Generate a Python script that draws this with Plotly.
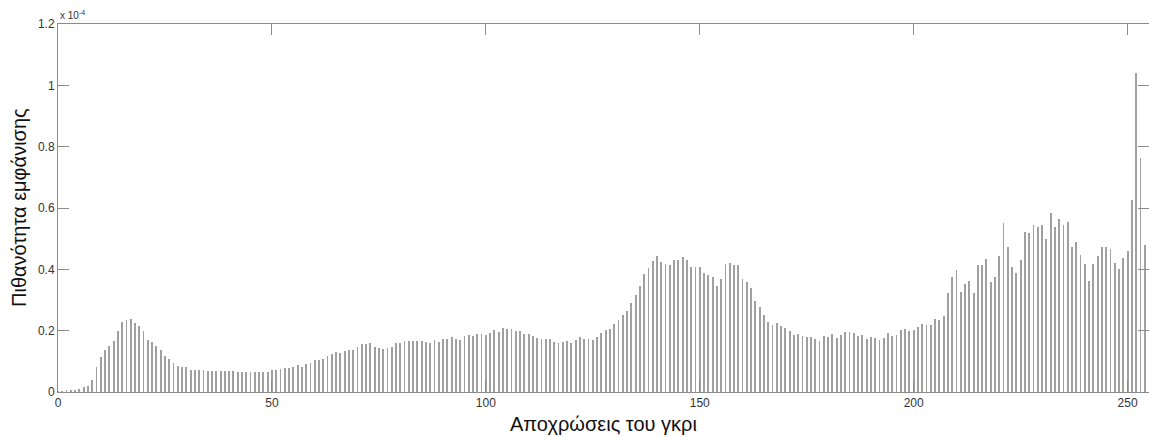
import plotly.graph_objects as go

# Gray levels 0..254 and probabilities (in units of 1e-4)
gray_levels = list(range(255))
probability = [
    0.002, 0.003, 0.004, 0.005, 0.008, 0.010, 0.015, 0.018, 0.038, 0.080,
    0.113, 0.136, 0.149, 0.167, 0.198, 0.227, 0.236, 0.238, 0.225, 0.214,
    0.200, 0.171, 0.162, 0.149, 0.138, 0.118, 0.108, 0.095, 0.086, 0.080,
    0.080, 0.073, 0.072, 0.072, 0.072, 0.070, 0.070, 0.070, 0.068, 0.068,
    0.068, 0.068, 0.066, 0.065, 0.065, 0.066, 0.064, 0.064, 0.066, 0.066,
    0.071, 0.071, 0.075, 0.079, 0.079, 0.082, 0.087, 0.083, 0.090, 0.096,
    0.103, 0.104, 0.109, 0.116, 0.123, 0.132, 0.126, 0.135, 0.138, 0.138,
    0.147, 0.157, 0.157, 0.159, 0.148, 0.142, 0.140, 0.143, 0.148, 0.159,
    0.159, 0.165, 0.167, 0.166, 0.167, 0.167, 0.163, 0.160, 0.168, 0.162,
    0.174, 0.172, 0.178, 0.174, 0.171, 0.183, 0.185, 0.183, 0.190, 0.188,
    0.186, 0.191, 0.203, 0.197, 0.208, 0.205, 0.204, 0.198, 0.198, 0.189,
    0.190, 0.183, 0.176, 0.173, 0.173, 0.173, 0.162, 0.159, 0.162, 0.166,
    0.159, 0.170, 0.178, 0.174, 0.174, 0.170, 0.178, 0.191, 0.202, 0.206,
    0.221, 0.236, 0.252, 0.264, 0.289, 0.317, 0.345, 0.386, 0.404, 0.426,
    0.443, 0.424, 0.416, 0.414, 0.430, 0.429, 0.440, 0.430, 0.406, 0.409,
    0.409, 0.388, 0.382, 0.375, 0.346, 0.367, 0.417, 0.420, 0.414, 0.413,
    0.370, 0.359, 0.339, 0.298, 0.277, 0.251, 0.227, 0.218, 0.224, 0.216,
    0.208, 0.199, 0.187, 0.188, 0.183, 0.178, 0.178, 0.173, 0.166, 0.182,
    0.179, 0.189, 0.177, 0.185, 0.197, 0.197, 0.193, 0.184, 0.186, 0.174,
    0.178, 0.177, 0.168, 0.176, 0.192, 0.183, 0.187, 0.203, 0.205, 0.198,
    0.203, 0.213, 0.222, 0.218, 0.217, 0.237, 0.236, 0.249, 0.322, 0.376,
    0.397, 0.327, 0.351, 0.361, 0.322, 0.413, 0.415, 0.434, 0.360, 0.375,
    0.445, 0.550, 0.474, 0.409, 0.387, 0.429, 0.523, 0.517, 0.543, 0.539,
    0.543, 0.500, 0.584, 0.538, 0.563, 0.543, 0.553, 0.474, 0.488, 0.447,
    0.418, 0.361, 0.416, 0.442, 0.473, 0.473, 0.465, 0.421, 0.400, 0.436,
    0.459, 0.627, 1.039, 0.762, 0.479,
]

x_ticks = [0, 50, 100, 150, 200, 250]
y_ticks = [0, 0.2, 0.4, 0.6, 0.8, 1.0, 1.2]
y_tick_labels = ["0", "0.2", "0.4", "0.6", "0.8", "1", "1.2"]

x_title = "Αποχρώσεις του γκρι"
y_title = "Πιθανότητα εμφάνισης"

FONT = "Liberation Sans, Arial, sans-serif"

fig = go.Figure()
fig.add_trace(go.Bar(
    x=gray_levels, y=probability, width=0.2,
    marker=dict(color="#a0a0a0", line=dict(width=0)),
    showlegend=False, hoverinfo="x+y",
))

axis_common = dict(
    showgrid=False, zeroline=False, showline=True, linecolor="#8c8c8c",
    linewidth=1, mirror="ticks", ticks="inside", ticklen=11,
    tickcolor="#8c8c8c", tickwidth=1,
    tickfont=dict(family=FONT, size=12, color="#333333"),
)

fig.update_layout(
    width=1149, height=437,
    margin=dict(l=58, r=0, t=24, b=45),
    paper_bgcolor="white", plot_bgcolor="white",
    bargap=0,
    xaxis=dict(range=[0, 255], tickvals=x_ticks, **axis_common),
    yaxis=dict(range=[0, 1.2], tickvals=y_ticks, ticktext=y_tick_labels, **axis_common),
    annotations=[
        dict(text="x 10<sup>-4</sup>", xref="paper", yref="paper", x=0, y=1,
             xanchor="left", yanchor="bottom", yshift=1, showarrow=False,
             font=dict(family=FONT, size=10, color="#333333")),
        dict(text=x_title, xref="paper", yref="paper", x=0.5, y=0,
             xanchor="center", yanchor="top", yshift=-19, showarrow=False,
             font=dict(family=FONT, size=20, color="#111111")),
        dict(text=y_title, xref="paper", yref="paper", x=0, y=0.5,
             xanchor="center", yanchor="middle", xshift=-39, textangle=-90, showarrow=False,
             font=dict(family=FONT, size=20, color="#111111")),
    ],
)

fig.write_html("out.html", config={"displayModeBar": False},
               post_script="document.body.style.margin='0';")
